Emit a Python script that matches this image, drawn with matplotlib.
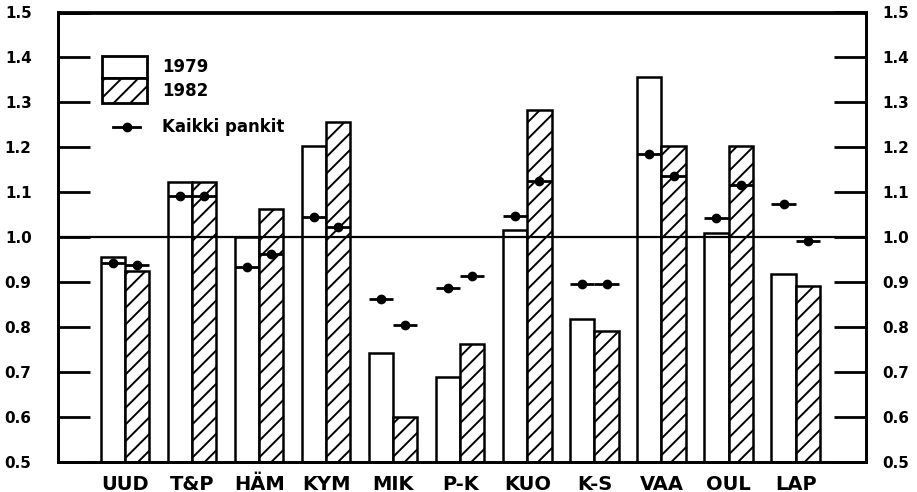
import matplotlib
matplotlib.use("Agg")
import matplotlib.pyplot as plt
import numpy as np
from matplotlib.patches import Rectangle
from matplotlib.lines import Line2D

regions = ["UUD", "T&P", "HÄM", "KYM", "MIK", "P-K", "KUO", "K-S", "VAA", "OUL", "LAP"]
v1979 = [0.957, 1.124, 1.000, 1.202, 0.742, 0.690, 1.017, 0.818, 1.356, 1.009, 0.918]
v1982 = [0.926, 1.124, 1.063, 1.256, 0.600, 0.762, 1.282, 0.792, 1.202, 1.202, 0.892]
kaikki1979 = [0.942, 1.091, 0.933, 1.046, 0.863, 0.887, 1.048, 0.896, 1.185, 1.043, 1.074]
kaikki1982 = [0.939, 1.091, 0.963, 1.022, 0.804, 0.914, 1.126, 0.896, 1.137, 1.117, 0.991]
yticks = [0.5, 0.6, 0.7, 0.8, 0.9, 1.0, 1.1, 1.2, 1.3, 1.4, 1.5]

plt.rcParams['font.family'] = ['DejaVu Sans']
plt.rcParams['font.weight'] = 'bold'
plt.rcParams['hatch.linewidth'] = 1.4

fig = plt.figure(figsize=(9.17, 4.92), dpi=100)
ax = fig.add_axes([58 / 917, 30 / 492, 808 / 917, 449.5 / 492])

x = np.arange(len(regions))
w = 0.36
base = 0.5
ax.bar(x - w / 2, np.array(v1979) - base, w, bottom=base, color='white',
       edgecolor='black', linewidth=1.8, zorder=2)
ax.bar(x + w / 2, np.array(v1982) - base, w, bottom=base, color='white',
       edgecolor='black', linewidth=1.8, hatch='//', zorder=2)

ax.axhline(1.0, color='black', linewidth=1.6, zorder=3)

for xs, ys in [(x - w / 2, kaikki1979), (x + w / 2, kaikki1982)]:
    ax.errorbar(xs, ys, xerr=w / 2, fmt='o', color='black', ms=6,
                elinewidth=2, capsize=0, zorder=4)

ax.set_xlim(-1, 11.05)
ax.set_ylim(0.5, 1.5)
ax.set_xticks(x)
ax.set_xticklabels(regions, fontsize=14, fontweight='bold')
ax.tick_params(axis='x', length=0, pad=9)
ylabels = [f"{t:.1f}" for t in yticks]
ax.set_yticks(yticks)
ax.set_yticklabels(ylabels, fontsize=11, fontweight='bold')
ax.tick_params(axis='y', direction='in', length=23, width=2, pad=19)

axr = ax.twinx()
axr.set_ylim(0.5, 1.5)
axr.set_yticks(yticks)
axr.set_yticklabels(ylabels, fontsize=11, fontweight='bold')
axr.tick_params(axis='y', direction='in', length=23, width=2, pad=12)
for a in (ax, axr):
    for s in a.spines.values():
        s.set_linewidth(2)

# legend drawn by hand
ax.add_patch(Rectangle((0.0545, 0.854), 0.0555, 0.049, transform=ax.transAxes,
                       facecolor='white', edgecolor='black', linewidth=2, zorder=5))
ax.add_patch(Rectangle((0.0545, 0.799), 0.0555, 0.055, transform=ax.transAxes,
                       facecolor='white', edgecolor='black', linewidth=2,
                       hatch='//', zorder=5))
ax.text(0.129, 0.879, "1979", transform=ax.transAxes, fontsize=12,
        fontweight='bold', va='center', ha='left')
ax.text(0.129, 0.826, "1982", transform=ax.transAxes, fontsize=12,
        fontweight='bold', va='center', ha='left')
ax.add_line(Line2D([0.068, 0.1015], [0.745, 0.745], transform=ax.transAxes,
                   color='black', linewidth=2, zorder=5))
ax.add_line(Line2D([0.085], [0.745], transform=ax.transAxes, marker='o',
                   ms=6, color='black', zorder=5))
ax.text(0.129, 0.745, "Kaikki pankit", transform=ax.transAxes, fontsize=12,
        fontweight='bold', va='center', ha='left')

fig.savefig("out.png", dpi=100)
